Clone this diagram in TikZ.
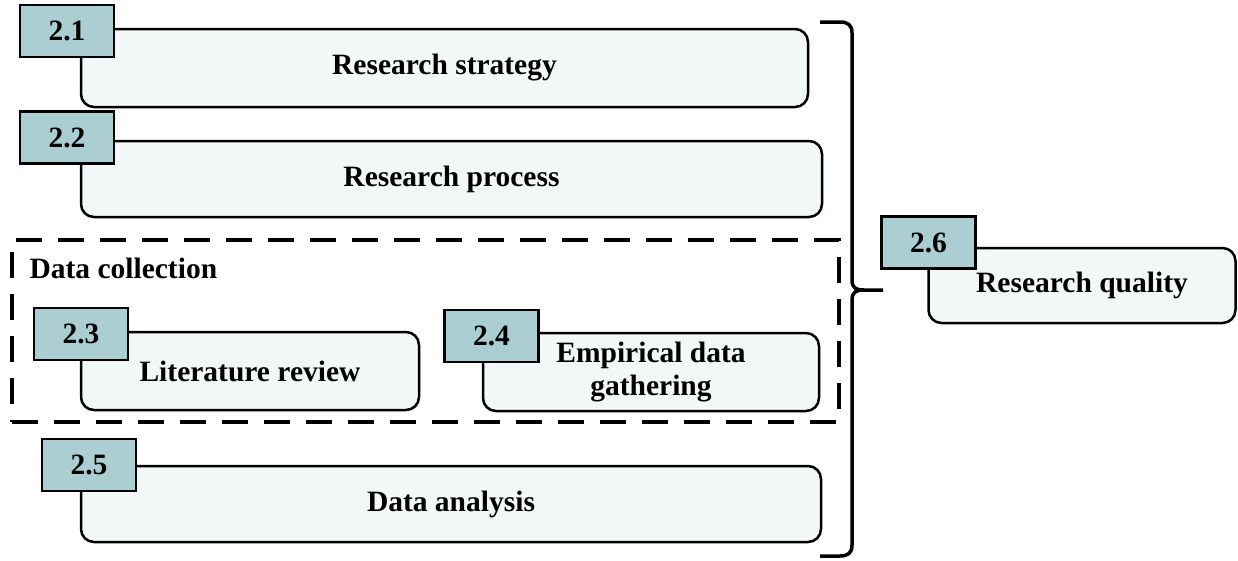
\documentclass[tikz,border=0pt]{standalone}
\usepackage{fontspec}
\setmainfont{Liberation Serif}
\usetikzlibrary{positioning}
\definecolor{tagfill}{HTML}{AACED2}
\definecolor{boxfill}{HTML}{F2F8F8}
\tikzset{
    mainbox/.style={draw, fill=boxfill, line width=2.5pt, rounded corners=13pt, align=center},
    tagbox/.style={draw, fill=tagfill, line width=2.5pt, minimum width=94pt, minimum height=52pt},
    groupbox/.style={draw, dash pattern=on 26pt off 16pt, line width=4pt},
}

\begin{document}
\begin{tikzpicture}[x=1pt, y=-1pt, font=\fontsize{29.5}{33}\selectfont\bfseries]
    \useasboundingbox (0,0) rectangle (1238,560);
    % data collection group
    \node[groupbox, minimum width=827pt, minimum height=182pt] (dcbox) at (425.5,331) {};
    \node[anchor=base west] (dclabel) at (26,278) {Data collection};
    % boxes
    \node[mainbox, minimum width=727pt, minimum height=78pt] (strategy) at (444.5,68) {Research strategy};
    \node[mainbox, minimum width=741pt, minimum height=76pt] (process) at (451.5,179) {Research process};
    \node[mainbox, minimum width=338pt, minimum height=78pt] (literature) at (250,371) {Literature review};
    \node[mainbox, minimum width=336pt, minimum height=78pt] (empirical) at (651,372) {Empirical data\\gathering};
    \node[mainbox, minimum width=740pt, minimum height=76pt] (analysis) at (451,504) {Data analysis};
    \node[mainbox, minimum width=307pt, minimum height=75pt] (quality) at (1082,285.5) {Research quality};
    % number tags
    \node[tagbox] (t21) at (67,31) {2.1};
    \node[tagbox] (t22) at (67,137.5) {2.2};
    \node[tagbox] (t23) at (81,334) {2.3};
    \node[tagbox] (t24) at (491.5,336) {2.4};
    \node[tagbox] (t25) at (89,465) {2.5};
    \node[tagbox] (t26) at (928.5,242.5) {2.6};
    % brace
    \coordinate (bracetop) at (820,22);
    \coordinate (bracetip) at (883,290);
    \coordinate (bracebot) at (820,556);
    \draw[line width=3.5pt] (bracetop) -- (840,22) .. controls (848,22) and (852,25) .. (852,33)
        -- (852,280) .. controls (852,288) and (856,290) .. (864,290) -- (bracetip);
    \draw[line width=3.5pt] (864,290) .. controls (856,290) and (852,292) .. (852,300)
        -- (852,545) .. controls (852,553) and (848,556) .. (840,556) -- (bracebot);
\end{tikzpicture}
\end{document}
